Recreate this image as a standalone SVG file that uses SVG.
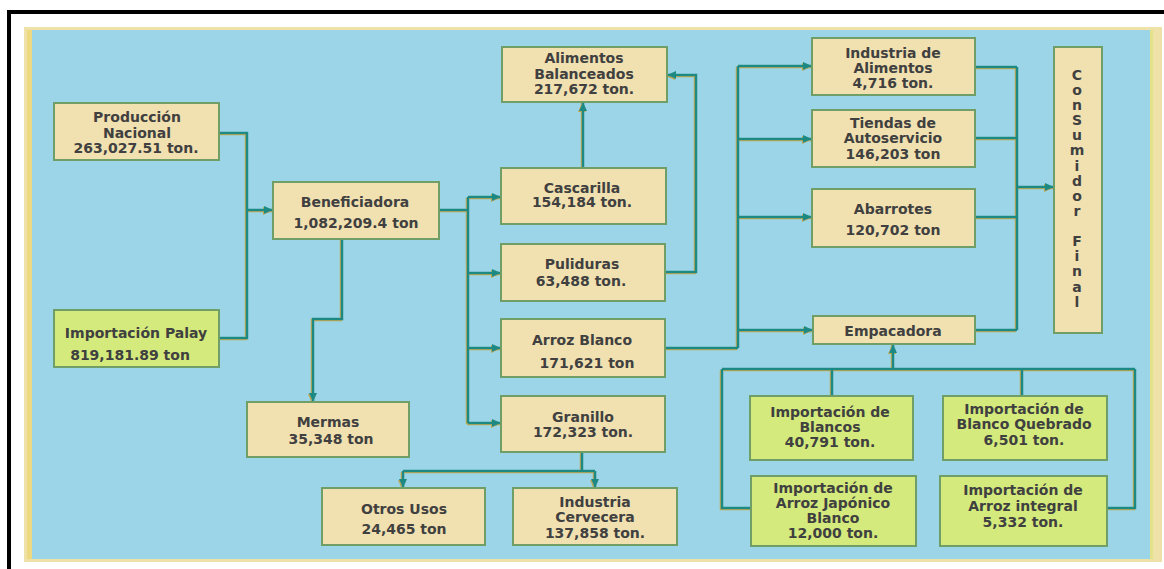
<svg xmlns="http://www.w3.org/2000/svg" width="1164" height="569" viewBox="0 0 1164 569">
<style>
.b{fill:#f1e1b0;stroke:#6f9f66;stroke-width:2}
.g{fill:#d4ea7c;stroke:#6f9f66;stroke-width:2}
text{font-family:"DejaVu Sans","Liberation Sans",sans-serif;font-weight:bold;font-size:14px;fill:#404040;text-anchor:middle}
.c path{fill:none;stroke:#1f8a83;stroke-width:2.5}
.a{marker-end:url(#ar)}
</style>
<defs>
<marker id="ar" markerUnits="userSpaceOnUse" markerWidth="10" markerHeight="10" refX="9" refY="5" orient="auto">
<path d="M0,1 L9,5 L0,9 Z" fill="#1f8a83"/>
</marker>
<filter id="sh" x="-5%" y="-5%" width="110%" height="110%">
<feFlood flood-color="#b9a84c"/>
<feComposite in2="SourceAlpha" operator="in"/>
<feOffset dx="-1.5" dy="1"/>
<feMerge><feMergeNode/><feMergeNode in="SourceGraphic"/></feMerge>
</filter>
</defs>
<rect x="0" y="0" width="1164" height="569" fill="#ffffff"/>
<rect x="7" y="10" width="1157" height="4" fill="#000"/>
<rect x="7" y="10" width="4" height="559" fill="#000"/>
<rect x="24" y="27" width="1138" height="535" fill="#efe2a9"/>
<rect x="27" y="30" width="6" height="529" fill="#ecd982"/>
<rect x="32" y="30" width="1121" height="529" fill="#e3e28a"/>
<rect x="32" y="30" width="1118" height="529" fill="#9dd5e8"/>

<g class="c" filter="url(#sh)" id="connectors">
<path d="M219,133 H247 V338 H219"/>
<path class="a" d="M247,210 H273"/>
<path class="a" d="M342,239 V319 H313 V402"/>
<path d="M439,210 H468"/>
<path d="M468,197 V423"/>
<path class="a" d="M468,197 H501"/>
<path class="a" d="M468,273 H501"/>
<path class="a" d="M468,348 H501"/>
<path class="a" d="M468,423 H501"/>
<path class="a" d="M583,168 V102"/>
<path class="a" d="M664,272 H696 V75 H667"/>
<path d="M582,452 V471"/>
<path d="M403,471 H595"/>
<path class="a" d="M403,471 V488"/>
<path class="a" d="M595,471 V488"/>
<path d="M664,348 H738"/>
<path d="M738,66 V348"/>
<path class="a" d="M738,66 H812"/>
<path class="a" d="M738,139 H812"/>
<path class="a" d="M738,217 H812"/>
<path class="a" d="M738,330 H813"/>
<path d="M975,67 H1017"/>
<path d="M975,138 H1017"/>
<path d="M975,217 H1017"/>
<path d="M975,330 H1017"/>
<path d="M1017,67 V330"/>
<path class="a" d="M1017,187 H1054"/>
<path class="a" d="M893,369 V344"/>
<path d="M722,369 H1135"/>
<path d="M722,369 V508 H751"/>
<path d="M1135,369 V508 H1107"/>
<path d="M832,369 V396"/>
<path d="M1022,369 V396"/>
</g>

<g id="produccion"><rect class="b" x="54" y="103" width="165" height="57"/>
<text x="137" y="122">Producción</text><text x="137" y="138">Nacional</text><text x="136" y="153">263,027.51 ton.</text></g>
<g id="palay"><rect class="g" x="54" y="310" width="165" height="57"/>
<text x="136" y="338">Importación Palay</text><text x="130" y="360">819,181.89 ton</text></g>
<g id="beneficiadora"><rect class="b" x="273" y="182" width="166" height="57"/>
<text x="355" y="207">Beneficiadora</text><text x="356" y="228">1,082,209.4 ton</text></g>
<g id="mermas"><rect class="b" x="247" y="402" width="162" height="55"/>
<text x="328" y="427">Mermas</text><text x="331" y="444">35,348 ton</text></g>
<g id="alimentos"><rect class="b" x="502" y="47" width="165" height="55"/>
<text x="584" y="63">Alimentos</text><text x="584" y="79">Balanceados</text><text x="584" y="94">217,672 ton.</text></g>
<g id="cascarilla"><rect class="b" x="501" y="168" width="165" height="56"/>
<text x="582" y="193">Cascarilla</text><text x="582" y="207">154,184 ton.</text></g>
<g id="puliduras"><rect class="b" x="501" y="244" width="164" height="57"/>
<text x="582" y="269">Puliduras</text><text x="581" y="286">63,488 ton.</text></g>
<g id="arrozblanco"><rect class="b" x="501" y="319" width="164" height="58"/>
<text x="582" y="345">Arroz Blanco</text><text x="587" y="368">171,621 ton</text></g>
<g id="granillo"><rect class="b" x="501" y="396" width="164" height="56"/>
<text x="583" y="422">Granillo</text><text x="583" y="437">172,323 ton.</text></g>
<g id="otros"><rect class="b" x="322" y="488" width="163" height="57"/>
<text x="404" y="514">Otros Usos</text><text x="404" y="534">24,465 ton</text></g>
<g id="cervecera"><rect class="b" x="513" y="488" width="164" height="57"/>
<text x="595" y="507">Industria</text><text x="595" y="522">Cervecera</text><text x="595" y="538">137,858 ton.</text></g>
<g id="ind_alimentos"><rect class="b" x="812" y="38" width="163" height="57"/>
<text x="893" y="58">Industria de</text><text x="893" y="73">Alimentos</text><text x="893" y="88">4,716 ton.</text></g>
<g id="tiendas"><rect class="b" x="812" y="110" width="163" height="57"/>
<text x="893" y="128">Tiendas de</text><text x="893" y="143">Autoservicio</text><text x="893" y="159">146,203 ton</text></g>
<g id="abarrotes"><rect class="b" x="812" y="189" width="163" height="58"/>
<text x="893" y="214">Abarrotes</text><text x="893" y="235">120,702 ton</text></g>
<g id="empacadora"><rect class="b" x="813" y="316" width="162" height="28"/>
<text x="893" y="336">Empacadora</text></g>
<g id="consumidor"><rect class="b" x="1054" y="47" width="48" height="286"/>
<text font-size="12"><tspan x="1077" y="80">C</tspan><tspan x="1077" y="95">o</tspan><tspan x="1077" y="110">n</tspan><tspan x="1077" y="125">S</tspan><tspan x="1077" y="140">u</tspan><tspan x="1077" y="155">m</tspan><tspan x="1077" y="171">i</tspan><tspan x="1077" y="186">d</tspan><tspan x="1077" y="201">o</tspan><tspan x="1077" y="216">r</tspan><tspan x="1077" y="246">F</tspan><tspan x="1077" y="261">i</tspan><tspan x="1077" y="276">n</tspan><tspan x="1077" y="292">a</tspan><tspan x="1077" y="307">l</tspan></text></g>
<g id="imp_blancos"><rect class="g" x="750" y="396" width="163" height="64"/>
<text x="830" y="417">Importación de</text><text x="830" y="432">Blancos</text><text x="830" y="447">40,791 ton.</text></g>
<g id="imp_quebrado"><rect class="g" x="943" y="396" width="164" height="64"/>
<text x="1024" y="414">Importación de</text><text x="1024" y="429">Blanco Quebrado</text><text x="1024" y="445">6,501 ton.</text></g>
<g id="imp_japonico"><rect class="g" x="751" y="476" width="165" height="70"/>
<text x="833" y="493">Importación de</text><text x="833" y="508">Arroz Japónico</text><text x="833" y="523">Blanco</text><text x="833" y="538">12,000 ton.</text></g>
<g id="imp_integral"><rect class="g" x="940" y="476" width="167" height="70"/>
<text x="1023" y="495">Importación de</text><text x="1023" y="511">Arroz integral</text><text x="1023" y="527">5,332 ton.</text></g>
</svg>
